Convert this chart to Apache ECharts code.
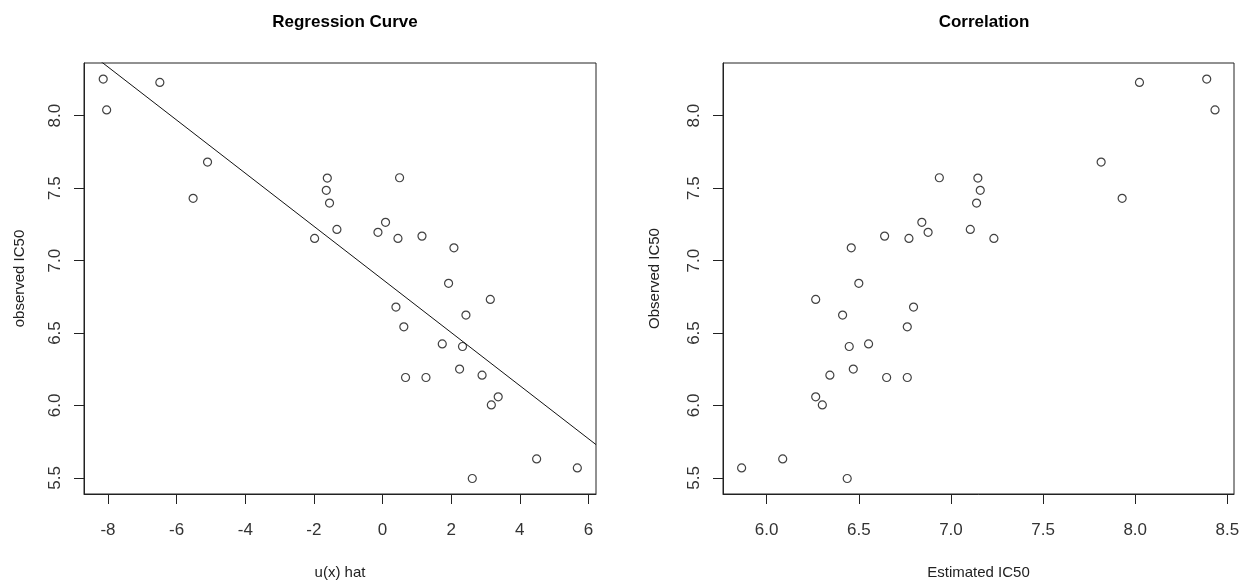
<!DOCTYPE html>
<html>
<head>
<meta charset="utf-8">
<script src="https://cdn.jsdelivr.net/npm/echarts@6/dist/echarts.min.js"></script>
<style>
  html, body { margin: 0; padding: 0; background: #fff; }
  #chart { width: 1247px; height: 586px; }
</style>
</head>
<body>
<div id="chart"></div>
<script>
// ---- data ----
const observedIC50 = [8.253, 8.04, 8.23, 7.68, 7.43, 7.57, 7.485, 7.397, 7.215, 7.153,
  7.572, 7.264, 7.195, 7.153, 7.169, 7.088, 6.843, 6.732, 6.679, 6.624,
  6.543, 6.425, 6.407, 6.251, 6.209, 6.193, 6.193, 6.06, 6.004, 5.631, 5.569, 5.496];
const uHat = [-8.14, -8.04, -6.49, -5.10, -5.52, -1.61, -1.64, -1.545, -1.33, -1.98,
  0.496, 0.087, -0.134, 0.449, 1.149, 2.08, 1.924, 3.14, 0.39, 2.43,
  0.62, 1.74, 2.33, 2.245, 2.90, 0.67, 1.265, 3.37, 3.17, 4.49, 5.676, 2.615];
const estimatedIC50 = [8.388, 8.433, 8.023, 7.815, 7.929, 7.146, 7.159, 7.139, 7.105, 7.233,
  6.937, 6.842, 6.876, 6.772, 6.640, 6.459, 6.50, 6.266, 6.797, 6.412,
  6.763, 6.553, 6.448, 6.47, 6.343, 6.763, 6.651, 6.266, 6.302, 6.087, 5.864, 6.437];
const regLineX = [-8.70, 6.22];
const regLineY = [8.465, 5.730];
const leftXTicks = [-8, -6, -4, -2, 0, 2, 4, 6];
const rightXTicks = [6.0, 6.5, 7.0, 7.5, 8.0, 8.5];
const yTicks = [5.5, 6.0, 6.5, 7.0, 7.5, 8.0];
const titles = ['Regression Curve', 'Correlation'];

// ---- chart ----
const font = 'Liberation Sans, Arial, Helvetica, sans-serif';
const ink = '#222';
const scatterPts = (xs, ys) => xs.map((x, i) => [x, ys[i]]);

function xAxisDef(grid, min, max, ticks, name, fmt) {
  return {
    type: 'value', gridIndex: grid, min: min, max: max,
    name: name, nameLocation: 'middle', nameGap: 71,
    nameTextStyle: { fontFamily: font, fontSize: 15, color: ink },
    axisLine: { show: true, onZero: false, lineStyle: { color: ink, width: 1 } },
    axisTick: { show: true, length: 10, customValues: ticks, lineStyle: { color: ink } },
    axisLabel: { customValues: ticks, margin: 28, fontFamily: font, fontSize: 17, color: '#333',
      formatter: fmt },
    splitLine: { show: false }
  };
}
function yAxisDef(grid, name, gap) {
  return {
    type: 'value', gridIndex: grid, min: 5.389, max: 8.364,
    name: name, nameLocation: 'middle', nameGap: gap,
    nameTextStyle: { fontFamily: font, fontSize: 15, color: ink },
    axisLine: { show: true, onZero: false, lineStyle: { color: ink, width: 1 } },
    axisTick: { show: true, length: 10, customValues: yTicks, lineStyle: { color: ink } },
    axisLabel: { customValues: yTicks, rotate: 90, margin: 20, fontFamily: font, fontSize: 17, color: '#333',
      formatter: v => v.toFixed(1) },
    splitLine: { show: false }
  };
}

const markerStyle = { color: 'rgba(255,255,255,0)', borderColor: '#111', borderWidth: 1.2 };

const option = {
  animation: false,
  backgroundColor: '#fff',
  title: [
    { text: titles[0], left: 340, top: 9, textAlign: 'center',
      textStyle: { fontFamily: font, fontSize: 17, fontWeight: 'bold', color: '#000' } },
    { text: titles[1], left: 979, top: 9, textAlign: 'center',
      textStyle: { fontFamily: font, fontSize: 17, fontWeight: 'bold', color: '#000' } }
  ],
  grid: [
    { left: 84, top: 63, width: 512, height: 431, show: true, borderColor: ink, borderWidth: 1, backgroundColor: 'transparent' },
    { left: 723, top: 63, width: 511, height: 431, show: true, borderColor: ink, borderWidth: 1, backgroundColor: 'transparent' }
  ],
  xAxis: [
    xAxisDef(0, -8.70, 6.22, leftXTicks, 'u(x) hat', v => String(v)),
    xAxisDef(1, 5.763, 8.536, rightXTicks, 'Estimated IC50', v => v.toFixed(1))
  ],
  yAxis: [
    yAxisDef(0, 'observed IC50', 57),
    yAxisDef(1, 'Observed IC50', 61)
  ],
  series: [
    { type: 'scatter', xAxisIndex: 0, yAxisIndex: 0, symbol: 'circle', symbolSize: 8,
      itemStyle: markerStyle, emphasis: { disabled: true }, data: scatterPts(uHat, observedIC50) },
    { type: 'line', xAxisIndex: 0, yAxisIndex: 0, symbol: 'none', clip: true,
      lineStyle: { color: '#111', width: 1 }, emphasis: { disabled: true },
      data: scatterPts(regLineX, regLineY) },
    { type: 'scatter', xAxisIndex: 1, yAxisIndex: 1, symbol: 'circle', symbolSize: 8,
      itemStyle: markerStyle, emphasis: { disabled: true }, data: scatterPts(estimatedIC50, observedIC50) }
  ]
};

const chart = echarts.init(document.getElementById('chart'), null, { renderer: 'canvas' });
chart.setOption(option);
</script>
</body>
</html>
